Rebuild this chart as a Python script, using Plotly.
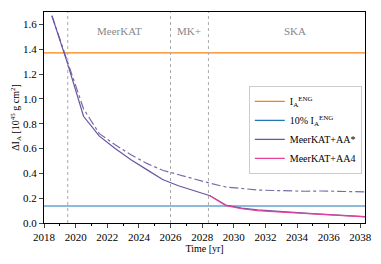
import plotly.graph_objects as go

years = [2018.5, 2019.5, 2020.5, 2021.5, 2022.5, 2023.5, 2024.5, 2025.5, 2026.5, 2027.5,
         2028.5, 2029.5, 2030.5, 2031.5, 2032.5, 2033.5, 2034.5, 2035.5, 2036.5, 2037.5, 2038.5]
aa_star = [1.67, 1.28, 0.86, 0.70, 0.60, 0.51, 0.43, 0.35, 0.30, 0.26,
           0.22, 0.145, 0.12, 0.105, 0.095, 0.088, 0.08, 0.072, 0.065, 0.057, 0.05]
aa_star_dd = [1.67, 1.29, 0.92, 0.72, 0.63, 0.55, 0.48, 0.425, 0.39, 0.35,
              0.32, 0.29, 0.275, 0.266, 0.262, 0.258, 0.256, 0.258, 0.255, 0.252, 0.25]
aa4_years = [2028.5, 2029.5, 2030.5, 2031.5, 2032.5, 2033.5, 2034.5, 2035.5, 2036.5, 2037.5, 2038.5]
aa4 = [0.22, 0.14, 0.115, 0.10, 0.092, 0.085, 0.078, 0.07, 0.063, 0.055, 0.048]
i_eng = 1.37
i_eng_10 = 0.137
phase_bounds = [2019.5, 2026.0, 2028.4]
phase_labels = ["MeerKAT", "MK+", "SKA"]
phase_label_x = [2022.8, 2027.2, 2033.9]
xticks = list(range(2018, 2039, 2))

FONT = "Liberation Serif"
xr = [2018, 2038.3]
fig = go.Figure()
fig.add_trace(go.Scatter(x=xr, y=[i_eng, i_eng], mode="lines", line=dict(color="#ff7f0e", width=1.2),
                         name="I<sub>A</sub><sup>ENG</sup>"))
fig.add_trace(go.Scatter(x=xr, y=[i_eng_10, i_eng_10], mode="lines", line=dict(color="#1f77b4", width=1.2),
                         name="10% I<sub>A</sub><sup>ENG</sup>"))
fig.add_trace(go.Scatter(x=years, y=aa_star_dd, mode="lines", line=dict(color="#7b6aa8", width=1.2, dash="dashdot"),
                         showlegend=False))
fig.add_trace(go.Scatter(x=years, y=aa_star, mode="lines", line=dict(color="#6a55a0", width=1.2),
                         name="MeerKAT+AA*"))
fig.add_trace(go.Scatter(x=aa4_years, y=aa4, mode="lines", line=dict(color="#e7409a", width=1.2),
                         name="MeerKAT+AA4"))

for b in phase_bounds:
    fig.add_vline(x=b, line=dict(color="#aaaaaa", width=1, dash="dot"))
for lab, lx in zip(phase_labels, phase_label_x):
    fig.add_annotation(x=lx, y=1.55, text=lab, showarrow=False,
                       font=dict(family=FONT, color="#888888", size=11))

fig.update_layout(
    width=373, height=256,
    margin=dict(l=36, r=16, t=4, b=41),
    paper_bgcolor="white", plot_bgcolor="white",
    font=dict(family=FONT, size=10, color="black"),
    legend=dict(x=0.99, y=0.65, xanchor="right", yanchor="top",
                bgcolor="rgba(255,255,255,0.8)", bordercolor="#cccccc", borderwidth=1,
                font=dict(family=FONT, size=10), tracegroupgap=0, itemwidth=30),
    xaxis=dict(range=xr, tickmode="array", tickvals=xticks, ticktext=[str(t) for t in xticks],
               ticks="outside", ticklen=4, showgrid=False, zeroline=False,
               showline=True, linecolor="black", linewidth=1, mirror=True,
               tickfont=dict(family=FONT, size=11),
               minor=dict(ticks="outside", ticklen=2, dtick=1, tick0=2018, tickcolor="black"),
               title=dict(text="Time [yr]", standoff=2, font=dict(family=FONT, size=10))),
    yaxis=dict(range=[0, 1.7], tickvals=[0, 0.2, 0.4, 0.6, 0.8, 1.0, 1.2, 1.4, 1.6],
               tickformat=".1f", ticks="outside", ticklen=4, showgrid=False, zeroline=False,
               showline=True, linecolor="black", linewidth=1, mirror=True,
               tickfont=dict(family=FONT, size=11),
               title=dict(text="ΔI<sub>A</sub> [10<sup>45</sup> g cm<sup>2</sup>]", standoff=0,
                          font=dict(family=FONT, size=10))),
)
fig.write_html("out.html")
